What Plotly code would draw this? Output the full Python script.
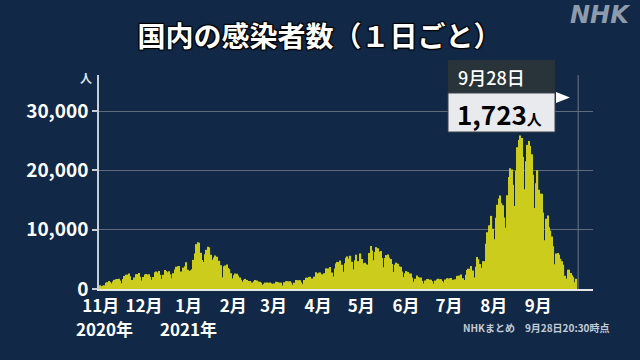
import pandas as pd
import plotly.graph_objects as go

# ---- data: daily new cases, 2020-11-01 .. 2021-09-28 ----
nov = [613, 488, 530, 627, 1049, 1129, 1332, 1162, 951, 1278, 1547, 1660, 1707, 1735, 1438,
       949, 1698, 2202, 2386, 2418, 2596, 2168, 1518, 1228, 1946, 2504, 2508, 2684, 2065, 1436]
dec = [2031, 2433, 2518, 2445, 2508, 2055, 1567, 2026, 2811, 2973, 2790, 3041, 2391, 1692, 2393,
       3211, 3043, 2832, 2992, 2483, 1803, 2665, 3269, 3743, 3831, 3880, 2948, 2395, 3604, 3852, 4520]
jan = [3259, 3057, 3158, 3325, 4915, 6004, 7570, 7882, 7790, 6094, 4875, 4538, 5875, 6605, 7133,
       7014, 5759, 4925, 5320, 5651, 5454, 4717, 4765, 3990, 1974, 3852, 3973, 4129, 3538, 3342, 2673]
feb = [1792, 2324, 2631, 2576, 2279, 1935, 1568, 1247, 1567, 1708, 1500, 1360, 1344, 1111, 1107,
       1302, 1524, 1418, 1262, 1233, 1068, 728, 881, 1080, 1084, 1040, 1093, 950]
mar = [872, 942, 1226, 1176, 1146, 1058, 1057, 604, 1128, 1316, 1290, 1286, 1320, 1059, 700,
       1063, 1534, 1490, 1473, 1474, 1116, 815, 1515, 1918, 1915, 2029, 2082, 1784, 1094, 2080, 2842]
apr = [2605, 2762, 2765, 2471, 1571, 2657, 3451, 3454, 3450, 3697, 2779, 2091, 3455, 4312, 4570,
       4532, 4801, 4093, 2924, 4337, 5289, 5498, 5119, 5606, 4606, 3314, 4847, 5791, 4679, 4682]
may = [5998, 5052, 4341, 4439, 4184, 4073, 6054, 7244, 6477, 4856, 6244, 7057, 6874, 6266, 6418,
       5239, 3683, 5228, 5723, 5830, 5334, 5065, 4221, 2856, 4077, 4440, 4268, 3830, 3744, 2946, 2023]
jun = [2641, 3019, 2848, 2601, 2634, 1935, 1240, 1732, 2258, 2014, 1937, 1920, 1388, 937, 1429,
       1679, 1681, 1543, 1546, 1309, 894, 1418, 1608, 1727, 1630, 1628, 1372, 1104, 1599, 1821]
jul = [1753, 1796, 1845, 1572, 1146, 1647, 2190, 2244, 2291, 2454, 1833, 1506, 2384, 3194, 3417,
       3434, 3875, 3100, 1946, 3755, 5396, 5020, 4225, 3574, 4692, 4689, 7629, 9576, 10699, 10743, 12341]
aug = [10167, 8392, 12017, 14207, 15263, 15753, 14469, 14111, 12065, 10331, 15812, 18889, 20366,
       20151, 17585, 14009, 19955, 23917, 25156, 25876, 25492, 22285, 16841, 21570, 24316, 24956,
       24133, 22748, 19283, 13646, 17827]
sep = [20031, 16753, 16100, 16079, 12914, 8203, 11846, 12396, 10396, 9847, 8865, 7221, 4169, 6009,
       6052, 5759, 5104, 4686, 4100, 2220, 1761, 3240, 3262, 2693, 2312, 1990, 1128, 1723]

cases = nov + dec + jan + feb + mar + apr + may + jun + jul + aug + sep
start_date = "2020-11-01"
dates = pd.date_range(start_date, periods=len(cases), freq="D")

month_ticks = ["2020-11-01 12:00", "2020-12-01 12:00", "2021-01-01 12:00", "2021-02-01 12:00",
               "2021-03-01 12:00", "2021-04-01 12:00", "2021-05-01 12:00", "2021-06-01 12:00",
               "2021-07-01 12:00", "2021-08-01 12:00", "2021-09-01 12:00"]
month_labels = ["11月", "12月", "1月", "2月", "3月", "4月", "5月", "6月", "7月", "8月", "9月"]
year_labels = [("2020-11-04", "2020年"), ("2021-01-01 12:00", "2021年")]
y_ticks = [0, 10000, 20000, 30000]

last_date = dates[-1]
last_value = cases[-1]

BG = "#112847"
FONT = "Noto Sans CJK JP"
GRID = "#5f6b7c"

fig = go.Figure()
fig.add_trace(go.Bar(x=dates, y=cases, marker=dict(color="#cccc1c", line=dict(width=0)),
                     hoverinfo="skip"))

fig.update_layout(
    width=640, height=360,
    margin=dict(l=99, r=47, t=75, b=71),
    paper_bgcolor=BG, plot_bgcolor=BG,
    bargap=0.12,
    showlegend=False,
    font=dict(family=FONT, color="white"),
    title=dict(text="国内の感染者数（１日ごと）", x=319.5 / 640, xanchor="center",
               y=1 - 37 / 360, yanchor="middle",
               font=dict(family=FONT, size=28, color="white", weight="bold",
                         shadow="1px 1px 1px #000, -1px -1px 1px #000, 1px -1px 1px #000, -1px 1px 1px #000")),
)

fig.update_xaxes(
    type="date",
    range=["2020-10-31 06:00", "2021-10-09 12:00"],
    tickvals=month_ticks, ticktext=month_labels,
    tickfont=dict(family=FONT, size=17, color="white", weight="bold"),
    ticklabelstandoff=1,
    showgrid=False, zeroline=False,
    showline=True, linecolor="#e6e6e6", linewidth=2,
    ticks="",
)
fig.update_yaxes(
    range=[0, 36100],
    tickvals=y_ticks, tickformat=",d",
    tickfont=dict(family=FONT, size=19, color="white", weight="bold"),
    showgrid=True, gridcolor=GRID, gridwidth=1,
    zeroline=False,
    showline=True, linecolor="#c9ced6", linewidth=1.5,
    ticks="outside", ticklen=5, tickcolor="#c9ced6", tickwidth=1.5,
)

# today line
fig.add_shape(type="line", xref="x", yref="paper",
              x0=last_date + pd.Timedelta(hours=29), x1=last_date + pd.Timedelta(hours=29),
              y0=0, y1=1, line=dict(color=GRID, width=1.2))

# callout boxes
fig.add_shape(type="rect", xref="paper", yref="paper", x0=0.7065, x1=0.9231, y0=0.9159, y1=1.0701,
              fillcolor="#283439", line=dict(width=0), layer="above")
fig.add_shape(type="rect", xref="paper", yref="paper", x0=0.7065, x1=0.9231, y0=0.7336, y1=0.9159,
              fillcolor="#e9eaee", line=dict(color="#3b424a", width=1), layer="above")
fig.add_shape(type="path", xref="paper", yref="paper",
              path="M 0.9251 0.9206 L 0.9534 0.8949 L 0.9251 0.8692 Z",
              fillcolor="white", line=dict(width=0), layer="above")

fig.add_annotation(xref="paper", yref="paper", x=(456 - 99) / 494, y=(289 - 76.5) / 214,
                   xanchor="left", yanchor="middle", showarrow=False,
                   text=f"{last_date.month}月{last_date.day}日",
                   font=dict(family=FONT, size=18, color="white", weight=500))
fig.add_annotation(xref="paper", yref="paper", x=(455 - 99) / 494, y=(289 - 113) / 214,
                   xanchor="left", yanchor="middle", showarrow=False,
                   text=f"{last_value:,}<span style='font-size:15px'>人</span>",
                   font=dict(family=FONT, size=26, color="black", weight="bold"))

# unit
fig.add_annotation(xref="paper", yref="paper", x=(86 - 99) / 494, y=(289 - 77) / 214,
                   xanchor="center", yanchor="middle", showarrow=False, text="人",
                   font=dict(family=FONT, size=12, color="#dfe3ea", weight="bold"))

# years
for xv, txt in year_labels:
    fig.add_annotation(xref="x", yref="paper", x=xv, y=(289 - 328.5) / 214,
                       xanchor="center", yanchor="middle", showarrow=False, text=txt,
                       font=dict(family=FONT, size=17, color="white", weight="bold"))

# footnote
fig.add_annotation(xref="paper", yref="paper", x=(611 - 99) / 494, y=(289 - 327) / 214,
                   xanchor="right", yanchor="middle", showarrow=False,
                   text="NHKまとめ　9月28日20:30時点",
                   font=dict(family=FONT, size=10, color="#c4cad3", weight="bold"))

# logo
fig.add_annotation(xref="paper", yref="paper", x=(633 - 99) / 494, y=(289 - 15) / 214,
                   xanchor="right", yanchor="middle", showarrow=False, text="NHK",
                   font=dict(family="DejaVu Sans", size=24, color="#8e9bac", weight="bold",
                             style="italic"))

fig.write_html("out.html")
